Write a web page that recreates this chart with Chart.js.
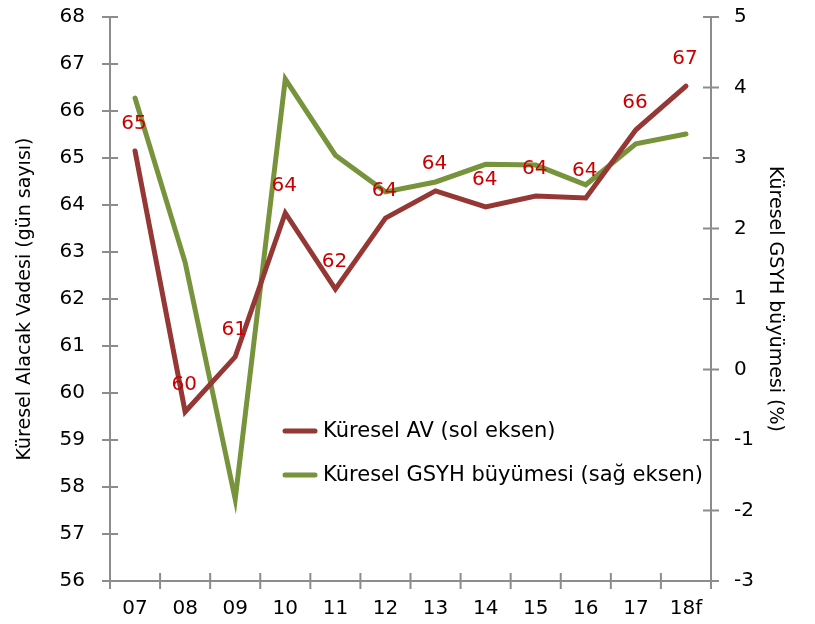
<!DOCTYPE html>
<html><head><meta charset="utf-8">
<script src="https://cdn.jsdelivr.net/npm/chart.js@4/dist/chart.umd.min.js"></script>
<style>html,body{margin:0;padding:0;background:#fff}#wrap{width:815px;height:624px}</style>
</head><body><div id="wrap"><canvas id="c" width="815" height="624"></canvas></div>
<script>
const categories = ['07','08','09','10','11','12','13','14','15','16','17','18f'];
const avValues = [65.15, 59.6, 60.77, 63.83, 62.21, 63.72, 64.30, 63.96, 64.19, 64.15, 65.60, 66.53];
const gdpValues = [3.85, 1.52, -1.84, 4.12, 3.04, 2.52, 2.66, 2.91, 2.90, 2.62, 3.20, 3.34];
const leftTicks = [56, 57, 58, 59, 60, 61, 62, 63, 64, 65, 66, 67, 68];
const rightTicks = [-3, -2, -1, 0, 1, 2, 3, 4, 5];
const seriesNames = ['Küresel AV (sol eksen)', 'Küresel GSYH büyümesi (sağ eksen)'];
const axisTitles = ['Küresel Alacak Vadesi (gün sayısı)', 'Küresel GSYH büyümesi (%)'];

const FONT = 'DejaVu Sans';
const AXIS = '#8c8c8c';
const RED = '#953735';
const GREEN = '#77933c';
const LABEL = '#cc0000';

const extras = {
  id: 'extras',
  afterDraw(chart) {
    const ctx = chart.ctx;
    const area = chart.chartArea;
    const xs = chart.scales.x, yl = chart.scales.y, yr = chart.scales.y1;
    ctx.save();
    ctx.strokeStyle = AXIS;
    ctx.lineWidth = 2;
    ctx.beginPath();
    yl.ticks.forEach((t, i) => { const p = yl.getPixelForTick(i); ctx.moveTo(area.left - 8, p); ctx.lineTo(area.left + 8, p); });
    yr.ticks.forEach((t, i) => { const p = yr.getPixelForTick(i); ctx.moveTo(area.right - 8, p); ctx.lineTo(area.right + 8, p); });
    const n = categories.length;
    for (let i = 0; i <= n; i++) {
      let p;
      if (i === 0) p = area.left; else if (i === n) p = area.right;
      else p = (xs.getPixelForValue(i - 1) + xs.getPixelForValue(i)) / 2;
      ctx.moveTo(p, area.bottom - 8); ctx.lineTo(p, area.bottom + 8);
    }
    ctx.stroke();
    // data labels
    const meta = chart.getDatasetMeta(0);
    ctx.fillStyle = LABEL;
    ctx.font = '20px "' + FONT + '"';
    ctx.textAlign = 'center';
    ctx.textBaseline = 'middle';
    meta.data.forEach((pt, i) => {
      ctx.fillText(String(Math.round(avValues[i])), pt.x - 1, pt.y - 27);
    });
    // legend
    const lx = area.left + 173, ly = area.top + 414;
    const colors = [RED, GREEN];
    ctx.lineCap = 'round';
    ctx.lineWidth = 5;
    ctx.textAlign = 'left';
    ctx.fillStyle = '#000';
    ctx.font = '21px "' + FONT + '"';
    seriesNames.forEach((name, i) => {
      const y = ly + i * 44;
      ctx.strokeStyle = colors[i];
      ctx.beginPath(); ctx.moveTo(lx + 2, y); ctx.lineTo(lx + 32, y); ctx.stroke();
      ctx.fillText(name, lx + 40, y + 1);
    });
    ctx.restore();
  }
};

function noPad(s) { s.paddingTop = 0; s.paddingBottom = 0; }

new Chart(document.getElementById('c'), {
  type: 'line',
  data: {
    labels: categories,
    datasets: [
      { label: seriesNames[0], data: avValues, borderColor: RED, borderWidth: 5, borderCapStyle: 'round', pointRadius: 0, yAxisID: 'y', tension: 0 },
      { label: seriesNames[1], data: gdpValues, borderColor: GREEN, borderWidth: 5, borderCapStyle: 'round', pointRadius: 0, yAxisID: 'y1', tension: 0 }
    ]
  },
  options: {
    responsive: false,
    animation: false,
    layout: { padding: { top: 17, left: 0, right: 0, bottom: 0 } },
    plugins: { legend: { display: false }, tooltip: { enabled: false } },
    font: { family: FONT },
    scales: {
      x: {
        offset: true,
        grid: { display: true, drawOnChartArea: false, drawTicks: false, tickLength: 0 },
        border: { color: AXIS, width: 2 },
        ticks: { color: '#000', font: { family: FONT, size: 20 }, padding: 16, maxRotation: 0 },
        afterFit(s) { s.height = 43; s.paddingLeft = 0; s.paddingRight = 0; }
      },
      y: {
        position: 'left',
        min: 56, max: 68,
        afterBuildTicks(s) { s.ticks = leftTicks.map(v => ({ value: v })); },
        grid: { display: true, drawOnChartArea: false, drawTicks: false, tickLength: 0 },
        border: { color: AXIS, width: 2 },
        ticks: { color: '#000', font: { family: FONT, size: 20 }, padding: 25 },
        title: { display: true, text: axisTitles[0], color: '#000', font: { family: FONT, size: 19 }, padding: { top: 14, bottom: 0 } },
        afterFit(s) { s.width = 110; noPad(s); }
      },
      y1: {
        position: 'right',
        min: -3, max: 5,
        afterBuildTicks(s) { s.ticks = rightTicks.map(v => ({ value: v })); },
        grid: { display: true, drawOnChartArea: false, drawTicks: false, tickLength: 0 },
        border: { color: AXIS, width: 2 },
        ticks: { color: '#000', font: { family: FONT, size: 20 }, padding: 23 },
        title: { display: true, text: axisTitles[1], color: '#000', font: { family: FONT, size: 19 }, padding: { top: 29, bottom: 0 } },
        afterFit(s) { s.width = 104; noPad(s); }
      }
    }
  },
  plugins: [extras]
});
</script>
</body></html>
